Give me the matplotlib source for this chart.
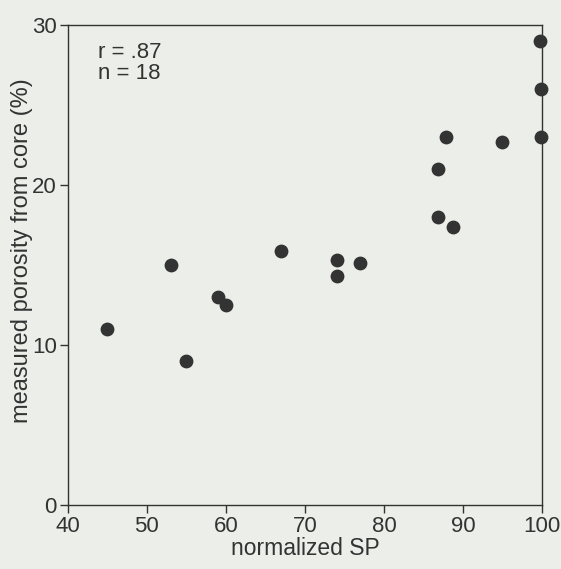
import numpy as np
from matplotlib import pyplot as plt

## data
sp = [45.0, 53.1, 55.0, 59.0, 60.0, 67.0, 74.0, 74.0, 77.0,
      99.8, 99.9, 99.9, 87.8, 94.9, 86.9, 86.8, 88.8]
porosity = [11.0, 15.0, 9.0, 13.0, 12.5, 15.9, 15.3, 14.3, 15.1,
            29.0, 26.0, 23.0, 23.0, 22.7, 21.0, 18.0, 17.4]
xticks = [40, 50, 60, 70, 80, 90, 100]
yticks = [0, 10, 20, 30]

plt.rcParams['font.family'] = ['Liberation Sans', 'DejaVu Sans']
bg = '#eceee9'
ink = '#333333'

fig = plt.figure(figsize=(5.61, 5.69), dpi=100, facecolor=bg)
ax = fig.add_axes([0.121, 0.1125, 0.845, 0.8436], facecolor=bg)

ax.scatter(sp, porosity, s=80, color=ink, zorder=3, clip_on=False)

ax.set_xlim(40, 100)
ax.set_ylim(0, 30)
ax.set_xticks(xticks)
ax.set_yticks(yticks)
ax.tick_params(direction='out', length=6, width=1, color=ink,
               labelsize=16, labelcolor=ink, pad=2)
for s in ax.spines.values():
    s.set_color(ink)
    s.set_linewidth(1)

ax.set_xlabel('normalized SP', fontsize=16.5, color=ink, labelpad=0)
ax.set_ylabel('measured porosity from core (%)', fontsize=17, color=ink)
ax.yaxis.set_label_coords(-0.074, 0.53)

ax.text(0.064, 0.965, 'r = .87\nn = 18', transform=ax.transAxes,
        fontsize=16, color=ink, va='top', ha='left', linespacing=1.0)

fig.savefig('out.png', dpi=100, facecolor=bg)
